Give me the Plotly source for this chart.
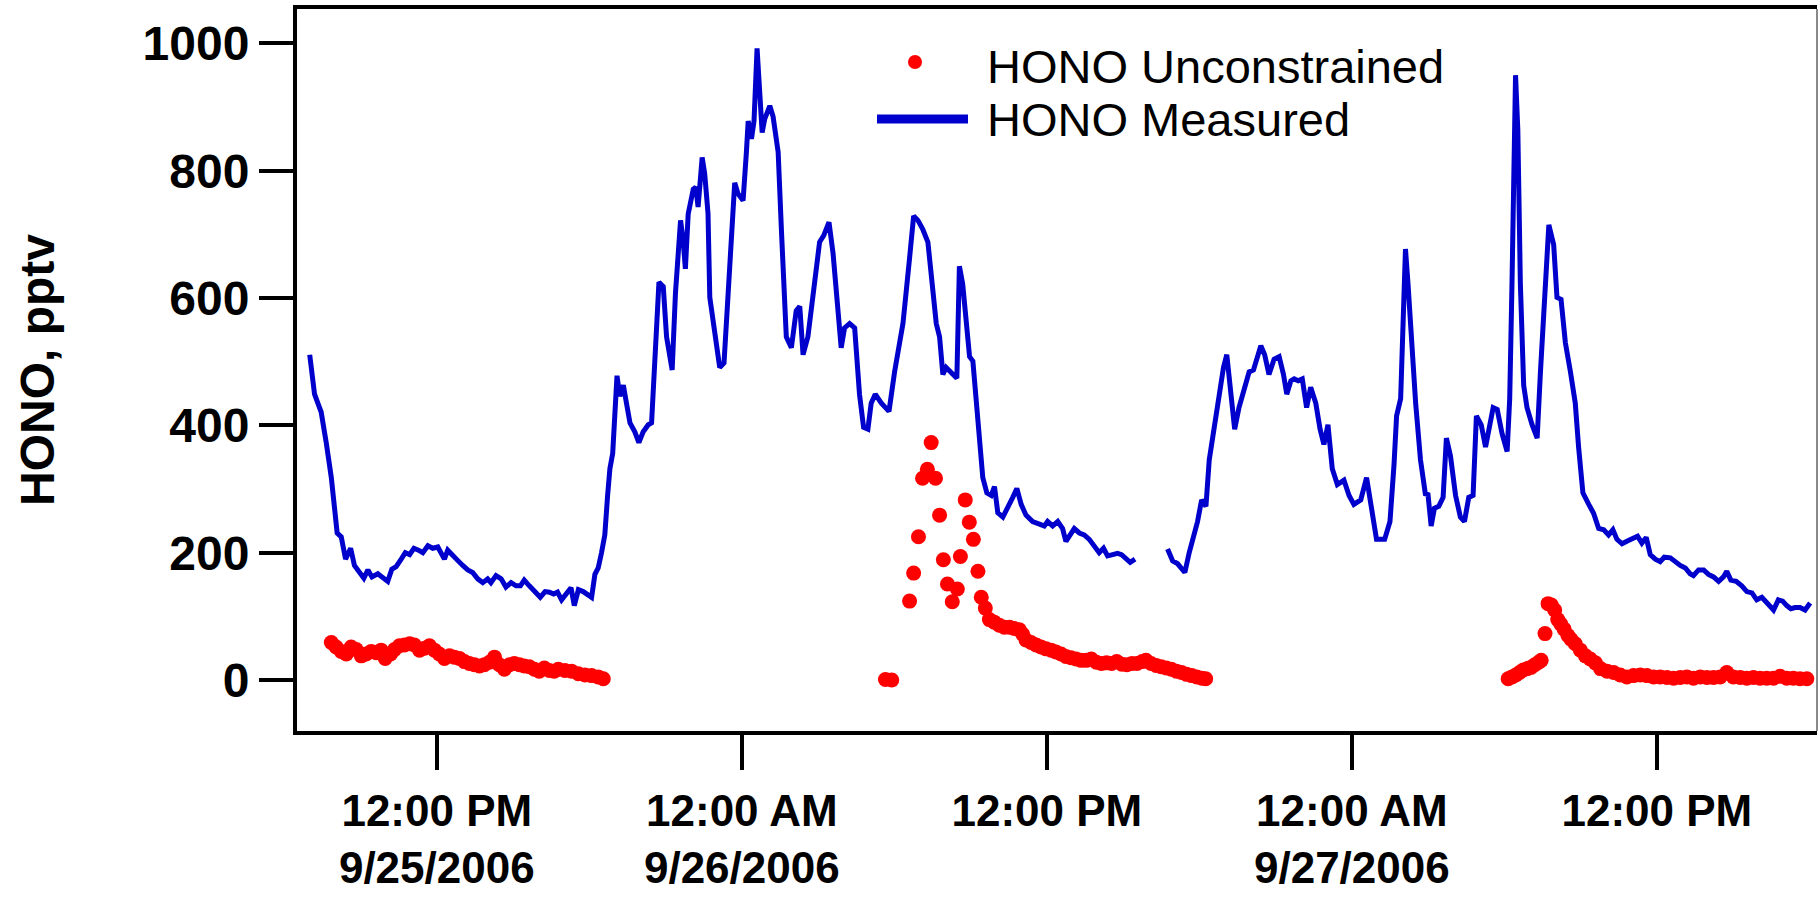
import pandas as pd
import plotly.graph_objects as go

# ---------------- data (hours since 2006-09-25 00:00, values in pptv) ----------------
measured_hours_a = [
    7.00, 7.19, 7.32, 7.45, 7.65, 7.85, 8.08, 8.24, 8.41, 8.61, 8.76, 8.96, 9.13, 9.29, 9.45,
    9.68, 9.88, 10.07, 10.23, 10.40, 10.60, 10.76, 10.93, 11.10, 11.28, 11.45, 11.65, 11.84,
    12.04, 12.17, 12.30, 12.43, 12.63, 12.82, 13.02, 13.22, 13.41, 13.61, 13.81, 14.00, 14.13,
    14.33, 14.53, 14.72, 14.92, 15.12, 15.29, 15.44, 15.64, 15.84, 16.07, 16.26, 16.43, 16.60,
    16.75, 16.91, 17.11, 17.28, 17.41, 17.57, 17.76, 17.89, 18.09, 18.22, 18.35, 18.48, 18.61,
    18.72, 18.81, 18.92, 18.98, 19.09, 19.20, 19.34, 19.43, 19.60, 19.79, 19.95, 20.12, 20.32,
    20.45, 20.58, 20.74, 20.91, 21.04, 21.26, 21.39, 21.59, 21.69, 21.78, 21.89, 22.09, 22.19,
    22.28, 22.44, 22.54, 22.67, 22.74, 22.94, 23.13, 23.30, 23.46, 23.72, 23.85, 24.05, 24.18,
    24.25, 24.38, 24.48, 24.60, 24.70, 24.80, 24.90, 25.10, 25.23, 25.43, 25.56, 25.75, 25.95,
    26.14, 26.28, 26.41, 26.60, 26.73, 26.87, 27.06, 27.22, 27.43, 27.59, 27.78, 27.91, 28.04,
    28.24, 28.44, 28.63, 28.79, 28.96, 29.09, 29.25, 29.49, 29.79, 30.01, 30.34, 30.60, 30.76,
    30.93, 31.12, 31.32, 31.49, 31.65, 31.78, 31.91, 32.04, 32.24, 32.46, 32.56, 32.69, 32.82,
    32.96, 33.09, 33.22, 33.35, 33.48, 33.64, 33.81, 33.94, 34.07, 34.27, 34.46, 34.66, 34.82,
    34.99, 35.18, 35.44, 35.71, 35.90, 36.03, 36.23, 36.43, 36.62, 36.75, 36.89, 37.08, 37.28,
    37.47, 37.67, 37.87, 38.06, 38.23, 38.39, 38.59, 38.78, 38.94, 39.11, 39.28, 39.47,
]
measured_pptv_a = [
    511, 449, 435, 421, 373, 318, 231, 225, 190, 207, 180, 169, 160, 173, 162,
    167, 160, 155, 174, 178, 190, 200, 197, 207, 204, 200, 211, 207,
    209, 200, 190, 204, 197, 188, 180, 173, 169, 159, 153, 159, 153,
    164, 159, 146, 153, 148, 148, 157, 148, 139, 130, 139, 138, 135,
    138, 126, 135, 145, 117, 142, 139, 135, 130, 166, 176, 200, 228,
    290, 332, 356, 401, 478, 446, 463, 442, 404, 390, 373, 390, 401,
    404, 491, 625, 618, 539, 487, 608, 722, 691, 646, 732, 771, 774,
    743, 821, 795, 733, 601, 549, 491, 498, 608, 781, 764, 753, 829,
    878, 850, 878, 992, 923, 860, 881, 902, 885, 829, 705, 539, 522,
    580, 587, 511, 539, 580, 629, 688, 698, 719, 670, 580, 522, 553,
    560, 553, 449, 397, 394, 435, 449, 435, 422, 484, 560, 663, 729,
    722, 708, 688, 622, 560, 539, 480, 491, 484, 474, 650, 622, 567,
    508, 501, 435, 373, 318, 294, 290, 304, 263, 256, 270, 287, 301,
    276, 259, 249, 245, 242, 249, 242, 249, 238, 218, 228, 238, 231,
    228, 221, 211, 200, 207, 195, 197, 199, 197, 192, 185, 190,
]
measured_hours_b = [
    40.75, 40.95, 41.14, 41.30, 41.43, 41.60, 41.80, 41.93, 42.09, 42.26, 42.39, 42.56, 42.69,
    42.82, 42.95, 43.08, 43.24, 43.39, 43.56, 43.76, 43.96, 44.13, 44.29, 44.42, 44.57, 44.74,
    44.94, 45.14, 45.31, 45.44, 45.60, 45.73, 45.89, 46.05, 46.22, 46.38, 46.58, 46.75, 46.90,
    47.06, 47.23, 47.43, 47.69, 47.89, 48.08, 48.35, 48.58, 48.76, 48.97, 49.29, 49.50, 49.66,
    49.76, 49.92, 50.02, 50.11, 50.21, 50.31, 50.51, 50.70, 50.90, 50.99, 51.12, 51.25, 51.42,
    51.59, 51.72, 51.88, 52.08, 52.27, 52.43, 52.60, 52.77, 52.90, 53.09, 53.26, 53.39, 53.56,
    53.72, 53.91, 54.11, 54.21, 54.30, 54.37, 54.44, 54.53, 54.63, 54.76, 54.89, 55.09, 55.29,
    55.42, 55.62, 55.75, 55.94, 56.07, 56.23, 56.40, 56.60, 56.79, 56.92, 57.09, 57.32, 57.51,
    57.71, 57.91, 58.10, 58.27, 58.43, 58.63, 58.82, 59.02, 59.24, 59.41, 59.58, 59.74, 59.94,
    60.13, 60.29, 60.53, 60.72, 60.92, 61.12, 61.31, 61.44, 61.64, 61.84, 62.03, 62.23, 62.43,
    62.62, 62.75, 62.91, 63.12, 63.34, 63.54, 63.74, 63.93, 64.13, 64.33, 64.59, 64.78, 64.95,
    65.11, 65.27, 65.44, 65.63, 65.83, 66.03,
]
measured_pptv_b = [
    206, 187, 183, 176, 169, 200, 228, 249, 283, 273, 346, 390, 418,
    456, 491, 511, 449, 394, 428, 460, 484, 487, 511, 525, 511, 480,
    504, 508, 480, 449, 470, 473, 470, 473, 428, 460, 435, 394, 370,
    401, 332, 307, 314, 290, 276, 283, 318, 276, 221, 221, 249, 339,
    415, 442, 553, 677, 622, 553, 435, 346, 290, 294, 242, 270, 273,
    287, 380, 352, 290, 256, 249, 287, 290, 415, 401, 366, 397, 428,
    425, 387, 359, 442, 622, 760, 950, 864, 622, 463, 428, 401, 380,
    484, 622, 715, 684, 601, 598, 530, 484, 435, 366, 294, 276, 262,
    238, 236, 228, 236, 221, 214, 218, 221, 226, 215, 224, 197, 190,
    186, 193, 192, 186, 180, 176, 167, 164, 173, 173, 166, 162, 155,
    162, 171, 157, 155, 148, 139, 137, 126, 130, 121, 110, 126, 124,
    117, 112, 114, 114, 110, 121,
]

unconstrained_hours = [
    7.85, 8.04, 8.24, 8.44, 8.63, 8.83, 9.03, 9.22, 9.42, 9.62, 9.81, 9.97, 10.18, 10.34, 10.53,
    10.73, 10.93, 11.12, 11.32, 11.52, 11.71, 11.91, 12.10, 12.30, 12.50, 12.69, 12.89, 13.09,
    13.28, 13.48, 13.68, 13.87, 14.07, 14.27, 14.46, 14.66, 14.86, 15.05, 15.25, 15.44, 15.64,
    15.84, 16.03, 16.23, 16.43, 16.62, 16.78, 17.04, 17.30, 17.57, 17.83, 18.09, 18.35, 18.55,
    29.65, 29.90, 30.60, 30.76, 30.95, 31.11, 31.30, 31.45, 31.62, 31.78, 31.93, 32.09, 32.28,
    32.48, 32.60, 32.79, 32.95, 33.11, 33.29, 33.42, 33.58, 33.74, 33.93, 34.13, 34.33, 34.53,
    34.72, 34.92, 35.05, 35.18, 35.38, 35.58, 35.77, 35.97, 36.17, 36.36, 36.56, 36.75, 36.95,
    37.15, 37.35, 37.55, 37.75, 37.95, 38.15, 38.35, 38.55, 38.75, 38.95, 39.15, 39.35, 39.55,
    39.75, 39.90, 40.10, 40.30, 40.50, 40.70, 40.90, 41.10, 41.30, 41.50, 41.70, 41.90, 42.10,
    42.25,
    54.15, 54.30, 54.45, 54.60, 54.75, 54.90, 55.05, 55.20, 55.35, 55.45, 55.60, 55.72, 55.85,
    55.98, 56.10, 56.22, 56.35, 56.50, 56.62, 56.79, 56.99, 57.19, 57.38, 57.58, 57.78, 58.04,
    58.30, 58.56, 58.82, 59.08, 59.35, 59.61, 59.87, 60.13, 60.40, 60.66, 60.92, 61.18, 61.44,
    61.71, 61.97, 62.23, 62.49, 62.75, 63.01, 63.28, 63.54, 63.80, 64.06, 64.32, 64.59, 64.85,
    65.11, 65.37, 65.63, 65.90,
]
unconstrained_pptv = [
    59, 52, 45, 41, 52, 48, 38, 41, 45, 43, 47, 34, 41, 48, 54,
    55, 57, 55, 47, 50, 54, 47, 41, 34, 38, 36, 34, 29,
    26, 24, 22, 24, 28, 36, 24, 17, 24, 26, 24, 22, 21,
    17, 14, 19, 15, 14, 17, 15, 14, 10, 8, 7, 5, 2,
    1, 0, 124, 168, 225, 317, 331, 373, 317, 259, 189, 151, 123,
    143, 194, 283, 248, 221, 171, 130, 113, 95, 91, 86, 83, 83,
    81, 79, 72, 63, 59, 55, 52, 49, 47, 44, 41, 37, 35,
    33, 31, 31, 33, 28, 26, 27, 26, 29, 25, 24, 26, 26,
    29, 31, 26, 23, 21, 19, 17, 14, 12, 9, 7, 5, 3,
    2,
    2, 5, 8, 12, 16, 18, 20, 24, 28, 31, 73, 120, 118,
    110, 95, 88, 80, 70, 64, 57, 47, 38, 33, 27, 18, 14,
    12, 8, 5, 7, 8, 7, 5, 5, 4, 3, 4, 5, 3,
    5, 4, 4, 5, 12, 5, 4, 3, 4, 3, 3, 3, 6,
    3, 3, 2, 2,
]

tick_hours = [12, 24, 36, 48, 60]
tick_labels = [
    "12:00 PM<br>9/25/2006",
    "12:00 AM<br>9/26/2006",
    "12:00 PM",
    "12:00 AM<br>9/27/2006",
    "12:00 PM",
]
y_ticks = [0, 200, 400, 600, 800, 1000]
series_names = ["HONO Unconstrained", "HONO Measured"]

# ---------------- helpers ----------------
BASE = pd.Timestamp("2006-09-25 00:00")


def to_time(hours):
    return [BASE + pd.Timedelta(hours=h) for h in hours]


# plot-area box in page pixels (used only for layout decorations)
PL, PR, PT, PB = 297, 1817, 9, 731


def px(xp):
    return (xp - PL) / (PR - PL)


def py(yp):
    return (PB - yp) / (PB - PT)


BLUE = "#0000CC"
RED = "#FF0000"
FONT = "Liberation Sans, Arial, sans-serif"

# measured series with a data gap between the two periods
gap_time = BASE + pd.Timedelta(hours=(measured_hours_a[-1] + measured_hours_b[0]) / 2)
meas_x = to_time(measured_hours_a) + [gap_time] + to_time(measured_hours_b)
meas_y = measured_pptv_a + [None] + measured_pptv_b

fig = go.Figure()
fig.add_trace(go.Scatter(
    x=meas_x, y=meas_y, mode="lines", name=series_names[1],
    line=dict(color=BLUE, width=5), connectgaps=False, showlegend=False,
))
fig.add_trace(go.Scatter(
    x=to_time(unconstrained_hours), y=unconstrained_pptv, mode="markers",
    name=series_names[0], marker=dict(color=RED, size=15, line=dict(width=0)),
    showlegend=False,
))

x_tick_font = dict(family=FONT, size=44, color="black", weight="bold")
y_tick_font = dict(family=FONT, size=48, color="black", weight="bold")

fig.update_layout(
    width=1819, height=897,
    margin=dict(l=PL, r=1819 - PR, t=PT, b=897 - PB),
    paper_bgcolor="white", plot_bgcolor="white",
    showlegend=False,
    font=dict(family=FONT, color="black"),
    xaxis=dict(
        type="date",
        range=[BASE + pd.Timedelta(hours=6.50), BASE + pd.Timedelta(hours=66.30)],
        tickmode="array", tickvals=to_time(tick_hours), ticktext=tick_labels,
        ticks="outside", ticklen=35, tickwidth=4, tickcolor="black",
        showline=True, linewidth=4, linecolor="black", mirror=True,
        showgrid=False, zeroline=False, tickfont=x_tick_font, automargin=False,
        ticklabelstandoff=3,
    ),
    yaxis=dict(
        range=[-80, 1054],
        tickmode="array", tickvals=y_ticks,
        ticks="outside", ticklen=34, tickwidth=4, tickcolor="black",
        showline=True, linewidth=4, linecolor="black",
        showgrid=False, zeroline=False, tickfont=y_tick_font, automargin=False,
        title=dict(text="HONO, pptv", font=dict(family=FONT, size=48, color="black", weight="bold"),
                   standoff=74),
    ),
    shapes=[
        # thin right frame
        dict(type="line", xref="paper", yref="paper", x0=1, x1=1, y0=0, y1=1,
             line=dict(color="#8a8a8a", width=2)),
        # legend samples
        dict(type="circle", xref="paper", yref="paper",
             x0=px(908), x1=px(922), y0=py(69), y1=py(55),
             fillcolor=RED, line=dict(width=0)),
        dict(type="line", xref="paper", yref="paper",
             x0=px(877), x1=px(968), y0=py(119), y1=py(119),
             line=dict(color=BLUE, width=9)),
    ],
    annotations=[
        dict(text=series_names[0], xref="paper", yref="paper", x=px(985), y=py(66),
             xanchor="left", yanchor="middle", showarrow=False,
             font=dict(family=FONT, size=47, color="black")),
        dict(text=series_names[1], xref="paper", yref="paper", x=px(985), y=py(120),
             xanchor="left", yanchor="middle", showarrow=False,
             font=dict(family=FONT, size=47, color="black")),
    ],
)

fig.write_html("out.html")
